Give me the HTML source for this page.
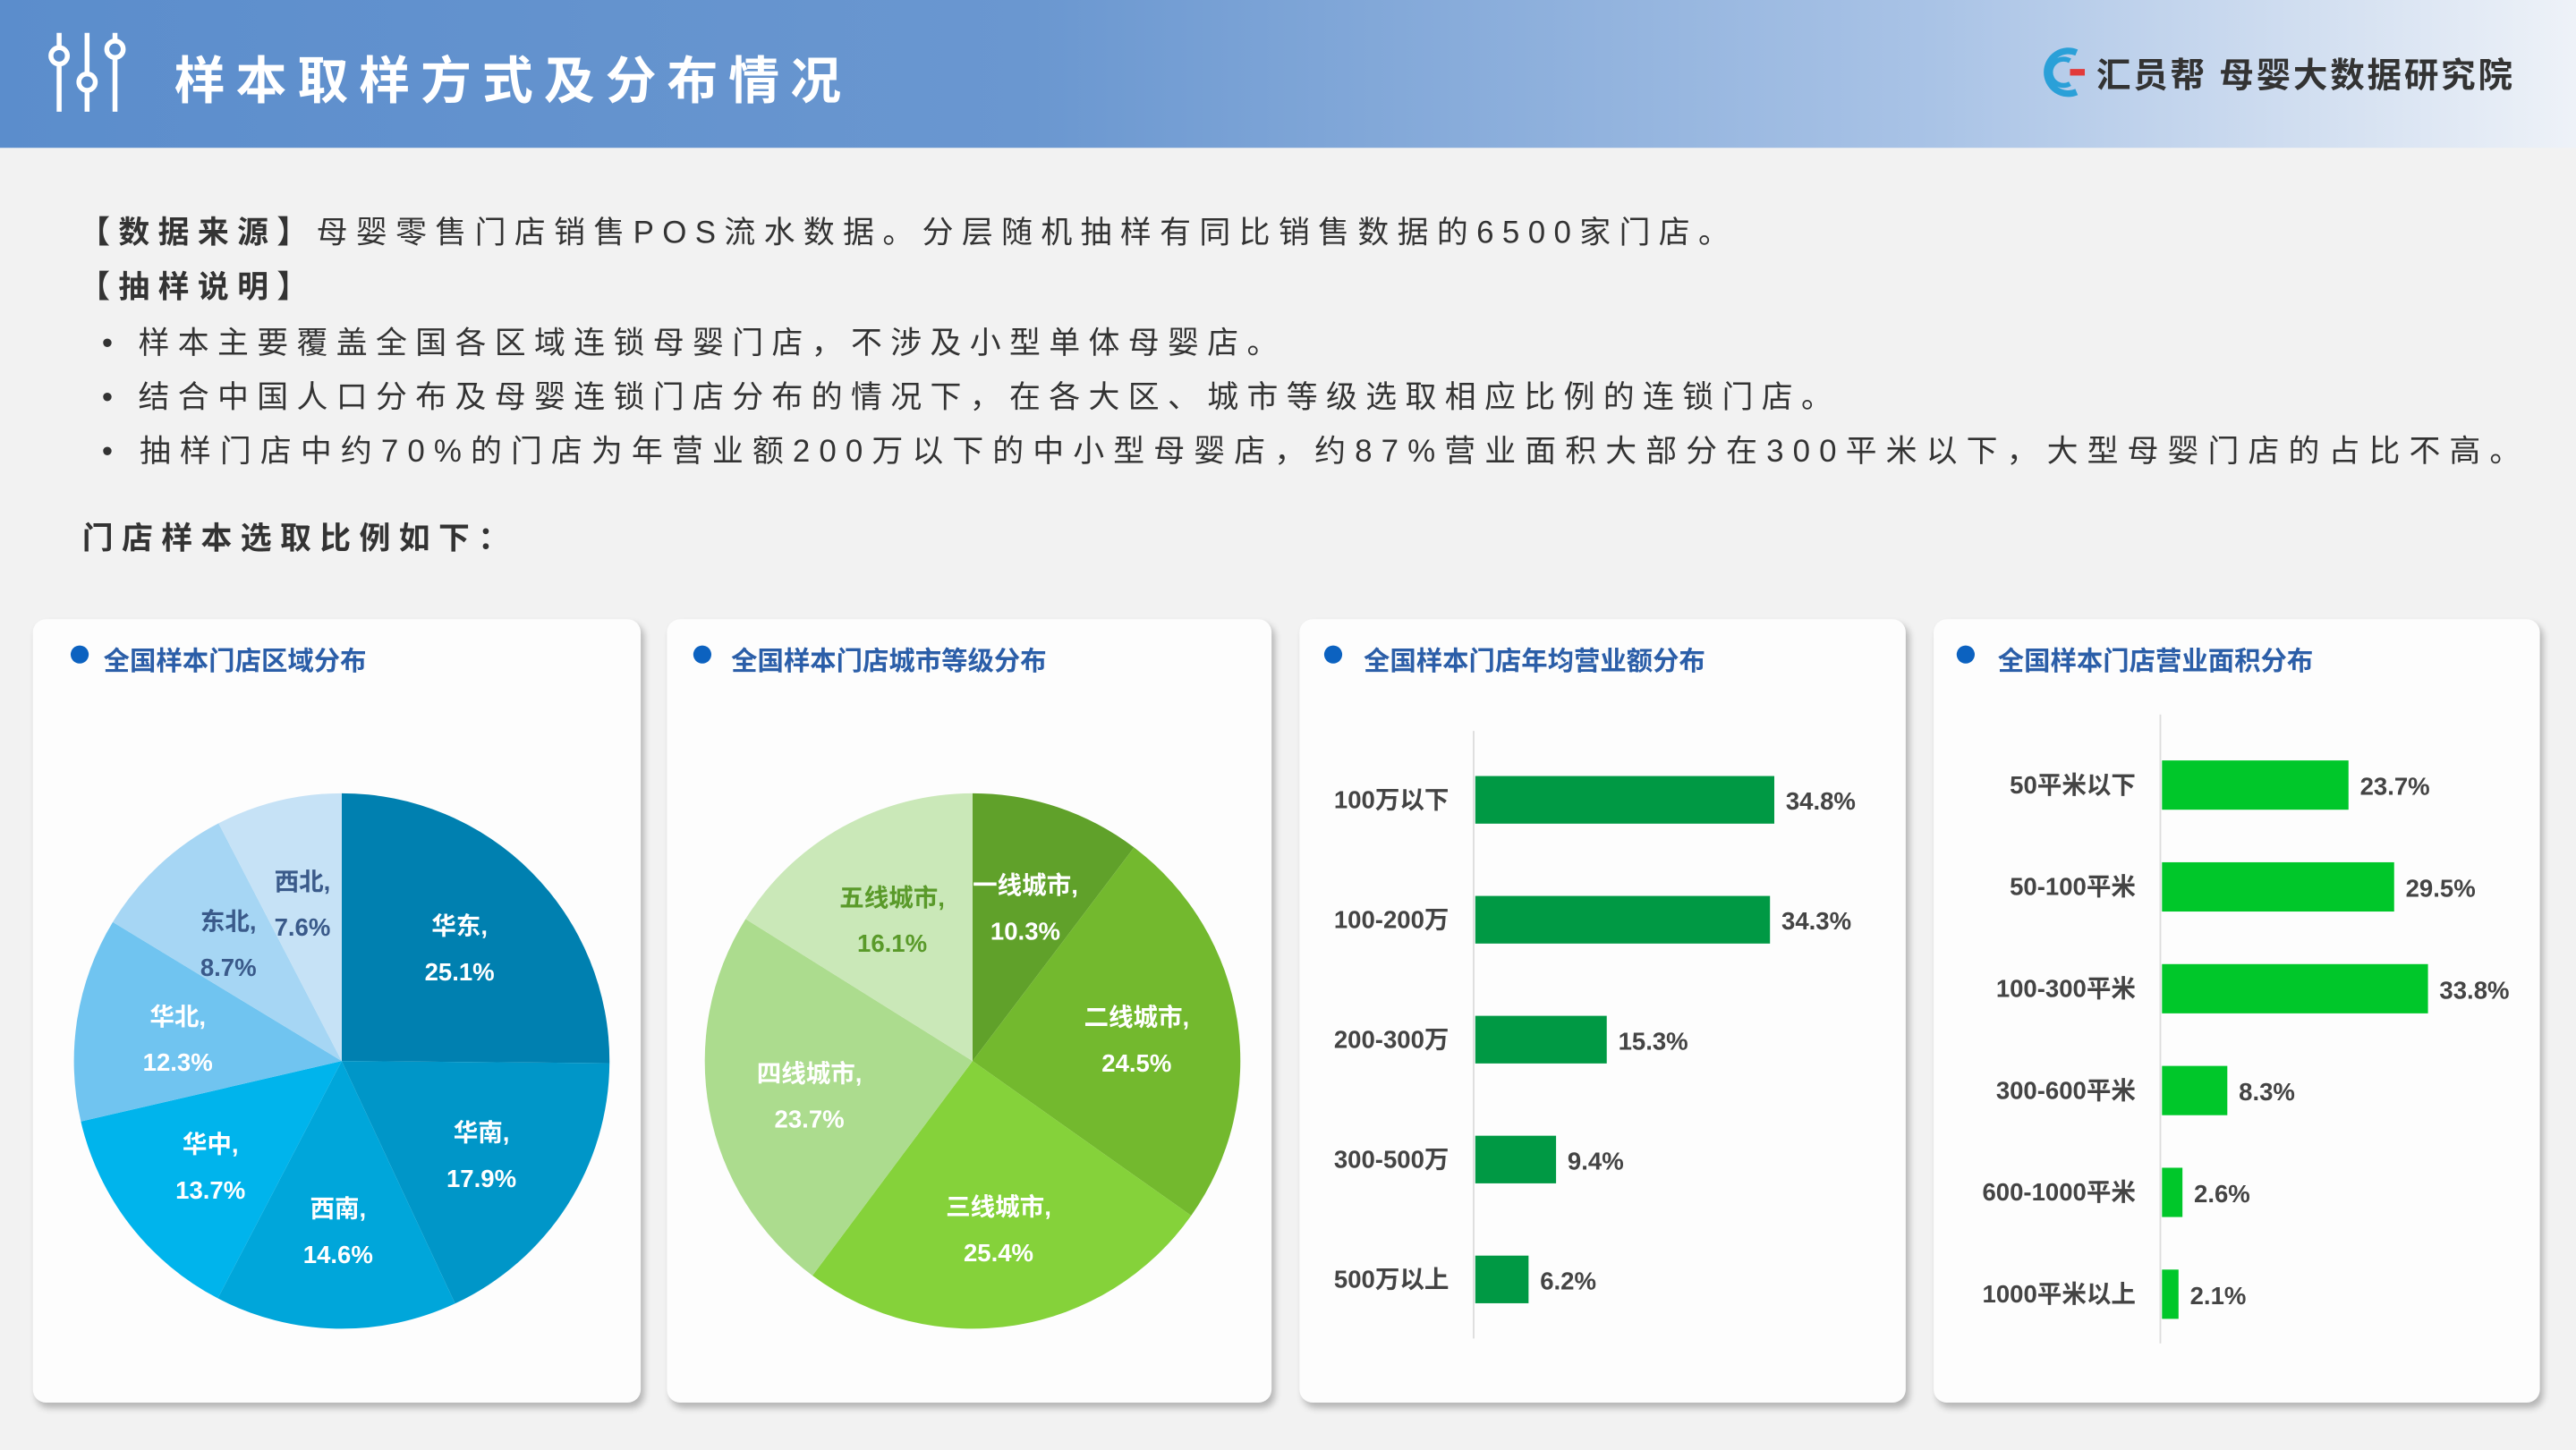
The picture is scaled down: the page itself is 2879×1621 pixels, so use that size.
<!DOCTYPE html>
<html><head><meta charset="utf-8">
<style>
html,body{margin:0;padding:0;width:2879px;height:1621px;overflow:hidden;background:#f2f2f2;}
#wrap{width:1568px;height:883px;transform:scale(1.83610);transform-origin:0 0;position:relative;font-family:"Liberation Sans","Noto Sans CJK SC",sans-serif;}
.hdr{position:absolute;left:0;top:0;width:1568px;height:90px;background:linear-gradient(90deg,#5b8dcc 0%,#6a97d0 40%,#a9c3e6 75%,#eef2f8 100%);}
.title{position:absolute;left:106px;top:24px;font-size:31px;font-weight:bold;color:#fff;letter-spacing:6.5px;}
.brand{position:absolute;left:1276px;top:30px;font-size:21px;font-weight:bold;color:#333;letter-spacing:1.5px;}
.txt{position:absolute;left:48px;font-size:19px;color:#333;letter-spacing:5.1px;white-space:nowrap;}
.card{position:absolute;top:377px;height:477px;background:#fdfdfd;border-radius:8px;box-shadow:2px 3px 4px rgba(0,0,0,0.25);}
.ct{position:absolute;top:12px;font-size:16px;font-weight:bold;color:#2b5ea8;}
.dot{position:absolute;top:16px;width:11px;height:11px;border-radius:50%;background:#0c62c0;}
</style></head><body>
<div id="wrap">
<div class="hdr">
 <svg style="position:absolute;left:28px;top:18px" width="52" height="54">
  <g fill="none" stroke="#fff" stroke-width="3">
   <line x1="8" y1="2" x2="8" y2="50"/><circle cx="8" cy="16" r="5" fill="#5b8dcc"/>
   <line x1="25" y1="2" x2="25" y2="50"/><circle cx="25" cy="32" r="5" fill="#5b8dcc"/>
   <line x1="42" y1="2" x2="42" y2="50"/><circle cx="42" cy="12" r="5" fill="#5b8dcc"/>
  </g></svg>
 <div class="title">样本取样方式及分布情况</div>
 <svg style="position:absolute;left:1242px;top:28px" width="30" height="32">
  <path d="M22 4 A13 13 0 1 0 22 28" fill="none" stroke="#2aa0d8" stroke-width="4"/>
  <path d="M18 9 A8 8 0 1 0 18 23" fill="none" stroke="#2aa0d8" stroke-width="3"/>
  <rect x="18" y="14" width="9" height="4" fill="#e23a3a"/></svg>
 <div class="brand">汇员帮 母婴大数据研究院</div>
</div>
<div class="txt" style="top:127px"><b>【数据来源】</b>母婴零售门店销售POS流水数据。分层随机抽样有同比销售数据的6500家门店。</div>
<div class="txt" style="top:160px"><b>【抽样说明】</b></div>
<div class="txt" style="top:194px;left:62px">• 样本主要覆盖全国各区域连锁母婴门店，不涉及小型单体母婴店。</div>
<div class="txt" style="top:227px;left:62px">• 结合中国人口分布及母婴连锁门店分布的情况下，在各大区、城市等级选取相应比例的连锁门店。</div>
<div class="txt" style="top:260px;left:62px;letter-spacing:5.5px">• 抽样门店中约70%的门店为年营业额200万以下的中小型母婴店，约87%营业面积大部分在300平米以下，大型母婴门店的占比不高。</div>
<div class="txt" style="top:313px;left:50px;font-weight:bold">门店样本选取比例如下：</div>

<div class="card" style="left:20px;width:370px"><div class="dot" style="left:23px"></div><div class="ct" style="left:43px">全国样本门店区域分布</div></div>
<div class="card" style="left:406px;width:368px"><div class="dot" style="left:16px"></div><div class="ct" style="left:39px">全国样本门店城市等级分布</div></div>
<div class="card" style="left:791px;width:369px"><div class="dot" style="left:15px"></div><div class="ct" style="left:39px">全国样本门店年均营业额分布</div></div>
<div class="card" style="left:1177px;width:369px"><div class="dot" style="left:14px"></div><div class="ct" style="left:39px">全国样本门店营业面积分布</div></div>

<svg id="charts" style="position:absolute;left:0;top:0" width="1568" height="883"></svg>
</div>
<script>
const regionLabels=["华东","华南","西南","华中","华北","东北","西北"];
const regionValues=[25.1,17.9,14.6,13.7,12.3,8.7,7.6];
const regionColors=["#0080b0","#0096c8","#00a6da","#00b4ec","#70c4f0","#a6d6f4","#c6e2f6"];
const regionTextColors=["#fff","#fff","#fff","#fff","#fff","#3a5a8a","#3a5a8a"];
const tierLabels=["一线城市","二线城市","三线城市","四线城市","五线城市"];
const tierValues=[10.3,24.5,25.4,23.7,16.1];
const tierColors=["#60a12a","#73b92e","#85d23a","#acdc8e","#cae8b8"];
const tierTextColors=["#fff","#fff","#fff","#fff","#5a9a2a"];
const revLabels=["100万以下","100-200万","200-300万","300-500万","500万以上"];
const revValues=[34.8,34.3,15.3,9.4,6.2];
const areaLabels=["50平米以下","50-100平米","100-300平米","300-600平米","600-1000平米","1000平米以上"];
const areaValues=[23.7,29.5,33.8,8.3,2.6,2.1];

const NS="http://www.w3.org/2000/svg";
const svg=document.getElementById('charts');
function mk(tag,attrs,parent){const e=document.createElementNS(NS,tag);for(const k in attrs)e.setAttribute(k,attrs[k]);(parent||svg).appendChild(e);return e;}
function txt(x,y,s,fill,size,anchor,name){const t=mk('text',{x:x,y:y,fill:fill,'font-size':size,'font-weight':'bold','text-anchor':anchor,'font-family':'"Liberation Sans","Noto Sans CJK SC",sans-serif'});t.textContent=s;


return t;}

function pie(cx,cy,r,labels,values,colors,tcols,prefix){
  const total=values.reduce((a,b)=>a+b,0);let a0=0;
  values.forEach((v,i)=>{
    const a1=a0+v/total*2*Math.PI;
    const x0=cx+r*Math.sin(a0),y0=cy-r*Math.cos(a0),x1=cx+r*Math.sin(a1),y1=cy-r*Math.cos(a1);
    const large=(a1-a0)>Math.PI?1:0;
    const p=mk('path',{d:`M${cx},${cy}L${x0},${y0}A${r},${r} 0 ${large} 1 ${x1},${y1}Z`,fill:colors[i]});
    
    
    const am=(a0+a1)/2,lr=r*0.62;
    const lx=cx+lr*Math.sin(am),ly=cy-lr*Math.cos(am);
    txt(lx,ly-6,labels[i]+',',tcols[i],15,'middle',prefix+'-label-'+i);
    txt(lx,ly+22,values[i].toFixed(1)+'%',tcols[i],15,'middle',prefix+'-value-'+i);
    a0=a1;
  });
}
pie(208,646,163,regionLabels,regionValues,regionColors,regionTextColors,'region');
pie(592,646,163,tierLabels,tierValues,tierColors,tierTextColors,'tier');

function bars(ax,y0,step,bh,scale,labels,values,color,axTop,axBot,prefix){
  const l=mk('line',{x1:ax,y1:axTop,x2:ax,y2:axBot,stroke:'#ddd','stroke-width':1});
  
  
  values.forEach((v,i)=>{
    const cy=y0+i*step,w=v*scale;
    const r=mk('rect',{x:ax+1,y:cy-bh/2,width:w,height:bh,fill:color});
    
    
    txt(ax-15,cy+5,labels[i],'#444',15,'end',prefix+'-category-'+i);
    txt(ax+w+8,cy+6,v.toFixed(1)+'%','#444',15,'start',prefix+'-value-'+i);
  });
}
bars(897,487,73,29,5.23,revLabels,revValues,'#009944',445,815,'revenue');
bars(1315,478,62,30,4.79,areaLabels,areaValues,'#00c72a',435,818,'area');
</script>
</body></html>
